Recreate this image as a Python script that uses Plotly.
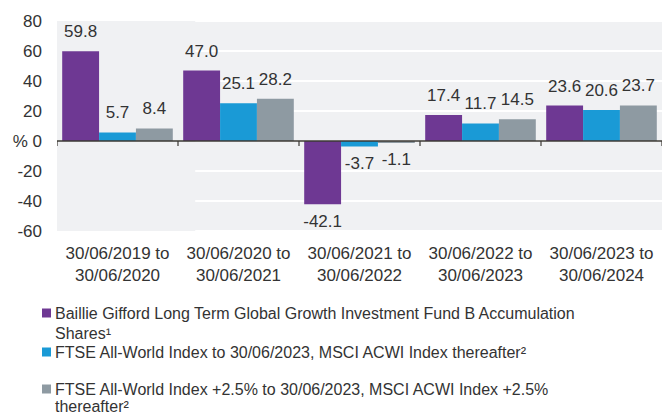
import plotly.graph_objects as go

categories = [
    "30/06/2019 to<br>30/06/2020",
    "30/06/2020 to<br>30/06/2021",
    "30/06/2021 to<br>30/06/2022",
    "30/06/2022 to<br>30/06/2023",
    "30/06/2023 to<br>30/06/2024",
]
fund = [59.8, 47.0, -42.1, 17.4, 23.6]
index = [5.7, 25.1, -3.7, 11.7, 20.6]
index_plus = [8.4, 28.2, -1.1, 14.5, 23.7]

series_names = [
    "Baillie Gifford Long Term Global Growth Investment Fund B Accumulation<br>Shares¹",
    "FTSE All-World Index to 30/06/2023, MSCI ACWI Index thereafter²",
    "FTSE All-World Index +2.5% to 30/06/2023, MSCI ACWI Index +2.5%<br>thereafter²",
]
colors = ["#6e3893", "#1a9ad6", "#8e9aa2"]
series = [fund, index, index_plus]

y_range = [-60, 80]
y_tickvals = [-60, -40, -20, 0, 20, 40, 60, 80]
y_ticktext = ["-60", "-40", "-20", "% 0", "20", "40", "60", "80"]

TXT = "#333333"
AXIS = "#3b3833"
BG = "#f0f1f3"
FONT = "Liberation Sans, Arial, sans-serif"
GAP = 0.086

fig = go.Figure()

# plot panel background and white grid lines on a hidden unit axis (x)
lo, hi = y_range
fig.add_trace(go.Scatter(x=[0, 1, 1, 0, 0], y=[lo, lo, hi, hi, lo], xaxis="x", yaxis="y",
                         mode="lines", line=dict(width=0), fill="toself", fillcolor=BG,
                         showlegend=False, hoverinfo="skip"))
gx, gy = [], []
for v in y_tickvals:
    gx += [0, 1, None]
    gy += [v, v, None]
fig.add_trace(go.Scatter(x=gx, y=gy, xaxis="x", yaxis="y", mode="lines",
                         line=dict(color="white", width=2),
                         showlegend=False, hoverinfo="skip"))

# bars and value labels on the category axis (x2, overlaid on top)
for name, vals, col in zip(series_names, series, colors):
    fig.add_trace(go.Bar(x=categories, y=vals, name=name, marker_color=col,
                         marker_line_width=0, xaxis="x2", yaxis="y",
                         showlegend=False, hoverinfo="skip"))
for vals in series:
    fig.add_trace(go.Scatter(
        x=categories, y=vals, xaxis="x2", yaxis="y", mode="markers+text",
        marker=dict(size=14, color="rgba(0,0,0,0)"),
        text=[f"{v:.1f}" for v in vals],
        textposition=["top center" if v >= 0 else "bottom center" for v in vals],
        textfont=dict(size=17, color=TXT, family=FONT),
        showlegend=False, hoverinfo="skip", cliponaxis=False))

fig.update_layout(
    width=662, height=414,
    margin=dict(l=57, r=0, t=21, b=183),
    paper_bgcolor="white", plot_bgcolor=BG,
    barmode="group", bargap=GAP, bargroupgap=0,
    scattermode="group", scattergap=GAP,
    font=dict(family=FONT, size=17, color=TXT),
    xaxis=dict(visible=False, range=[0, 1], showgrid=False, zeroline=False),
    xaxis2=dict(type="category", categoryarray=categories, range=[-0.5, 4.5],
                overlaying="x", anchor="y", side="bottom",
                showgrid=False, showline=False, ticks="", zeroline=False,
                tickfont=dict(size=17, color=TXT), ticklabelstandoff=10),
    yaxis=dict(range=y_range, tickvals=y_tickvals, ticktext=y_ticktext,
               showgrid=False, zeroline=False, showline=False, ticks="",
               tickfont=dict(size=17, color=TXT), ticklabelstandoff=14),
)

# zero line with small downward ticks at the category boundaries
fig.add_shape(type="line", xref="paper", yref="y", x0=0, x1=1, y0=0, y1=0,
              line=dict(color=AXIS, width=1.5), layer="above")
for i in range(len(categories) + 1):
    fig.add_shape(type="line", xref="x2", yref="y", x0=i - 0.5, x1=i - 0.5,
                  ysizemode="pixel", yanchor=0, y0=0, y1=-5,
                  line=dict(color=AXIS, width=1.2), layer="above")

# custom legend (paper coordinates derived from the plot frame)
L, R, T, B = 57, 662, 21, 231
def px_x(px):
    return (px - L) / (R - L)
def px_y(py):
    return (B - py) / (B - T)

legend_lines = [
    (0, 313, "Baillie Gifford Long Term Global Growth Investment Fund B Accumulation"),
    (None, 333, "Shares¹"),
    (1, 352, "FTSE All-World Index to 30/06/2023, MSCI ACWI Index thereafter²"),
    (2, 389, "FTSE All-World Index +2.5% to 30/06/2023, MSCI ACWI Index +2.5%"),
    (None, 406, "thereafter²"),
]
for idx, cy, txt in legend_lines:
    fig.add_annotation(xref="paper", yref="paper", x=px_x(53), y=px_y(cy),
                       xanchor="left", yanchor="middle", showarrow=False,
                       text=txt, font=dict(size=16, color=TXT, family=FONT))
    if idx is not None:
        fig.add_shape(type="rect", xref="paper", yref="paper",
                      x0=px_x(42), x1=px_x(51), y0=px_y(cy - 4.5), y1=px_y(cy + 4.5),
                      fillcolor=colors[idx], line_width=0)

fig.write_html("out.html", config={"displayModeBar": False},
               post_script="document.body.style.margin='0';")
